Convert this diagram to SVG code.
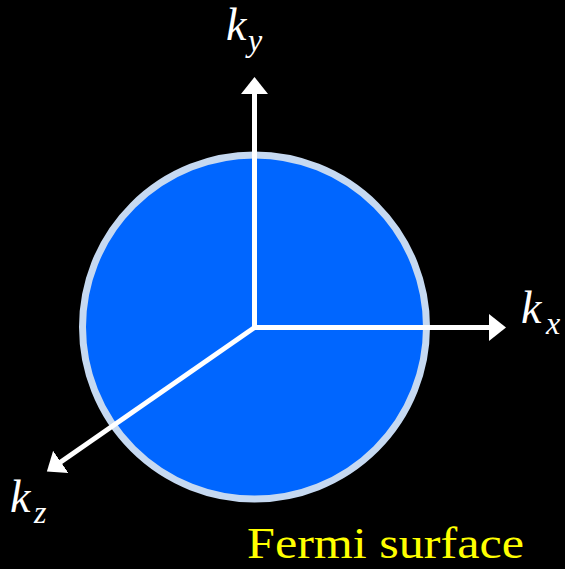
<svg xmlns="http://www.w3.org/2000/svg" width="565" height="569" viewBox="0 0 565 569">
<style>
.axis{stroke:#fff;stroke-width:5;fill:none;marker-end:url(#ah)}
.k{font-family:"Liberation Serif","DejaVu Serif",serif;font-style:italic;fill:#fff}
</style>
<defs>
<marker id="ah" markerUnits="userSpaceOnUse" markerWidth="20" markerHeight="28" viewBox="0 -14 20 28" refX="1" refY="0" orient="auto">
<path d="M0,-13.5 L17,0 L0,13.5 z" fill="#fff"/>
</marker>
</defs>
<rect width="565" height="569" fill="#000"/>
<g id="sphere">
<circle cx="254.5" cy="327" r="172" fill="#0066ff" stroke="#c6d9f1" stroke-width="7"/>
</g>
<g id="axes">
<line class="axis" x1="254.5" y1="330" x2="254.5" y2="93"/>
<line class="axis" x1="252" y1="327.5" x2="490" y2="327.5"/>
<line class="axis" x1="254.5" y1="327.5" x2="60" y2="462.5"/>
</g>
<g id="label-ky"><text class="k" x="226" y="40" font-size="46">k</text><text class="k" x="248" y="51" font-size="32">y</text></g>
<g id="label-kx"><text class="k" x="521" y="323" font-size="46">k</text><text class="k" x="546" y="334" font-size="32">x</text></g>
<g id="label-kz"><text class="k" x="10" y="512" font-size="46">k</text><text class="k" x="34" y="523" font-size="32">z</text></g>
<g id="label-fermi"><text x="247" y="558" font-family="Liberation Serif, DejaVu Serif, serif" font-size="44" fill="#ffff00" textLength="277" lengthAdjust="spacingAndGlyphs">Fermi surface</text></g>
</svg>
